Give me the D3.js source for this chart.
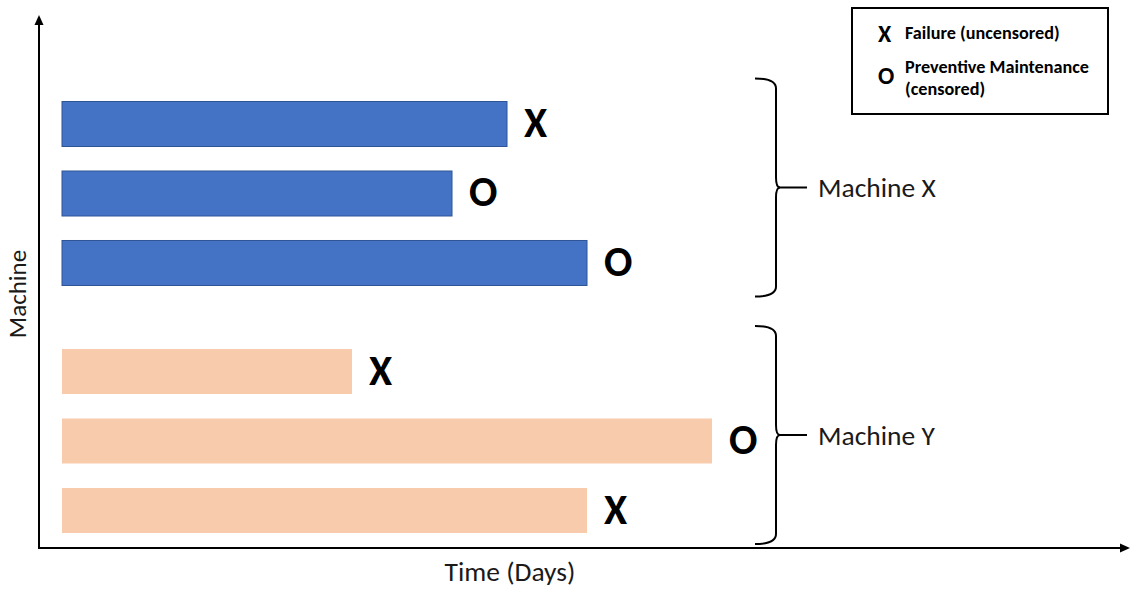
<!DOCTYPE html>
<html>
<head>
<meta charset="utf-8">
<script src="https://cdn.jsdelivr.net/npm/d3@7"></script>
<style>
  html, body { margin: 0; padding: 0; background: #fff; }
  svg { display: block; font-family: Carlito, Lato, "Open Sans", sans-serif; }
</style>
</head>
<body>
<script>
// Run history per machine: time to event and how each run ended
const groups = ["Machine X", "Machine Y"];
const machines = ["Machine X", "Machine X", "Machine X", "Machine Y", "Machine Y", "Machine Y"];
const runs = [1, 2, 3, 1, 2, 3];
const durations = [89, 78, 105, 58, 130, 105];   // days
const outcomes = ["X", "O", "O", "X", "O", "X"]; // X = failure, O = preventive maintenance

const legendSymbols = ["X", "O"];
const legendLabels = [["Failure (uncensored)"], ["Preventive Maintenance", "(censored)"]];

const groupColors = { "Machine X": "#4472C4", "Machine Y": "#F8CBAD" };
const groupStroke = { "Machine X": "#2F5597", "Machine Y": "none" };

const rows = machines.map((m, i) => ({ machine: m, run: runs[i], days: durations[i], outcome: outcomes[i] }));

const W = 1130, H = 590;
const svg = d3.select("body").append("svg").attr("width", W).attr("height", H);

// Scales
const x = d3.scaleLinear().domain([0, 200]).range([62, 1062]);
const yGroup = d3.scaleBand().domain(groups).range([101.5, 533]).paddingInner(0.2566).paddingOuter(0);
const yRow = d3.scaleBand().domain([1, 2, 3]).range([0, yGroup.bandwidth()]).paddingInner(0.3525).paddingOuter(0);

// Axes with arrowheads
const axisX0 = 39, axisY0 = 548;
const axes = svg.append("g").attr("stroke", "#000").attr("fill", "#000");
axes.append("line").attr("x1", axisX0).attr("y1", axisY0 + 1).attr("x2", axisX0).attr("y2", 24).attr("stroke-width", 2);
axes.append("path").attr("d", `M${axisX0},15 L${axisX0 - 4.5},25 L${axisX0 + 4.5},25 Z`).attr("stroke", "none");
axes.append("line").attr("x1", axisX0 - 1).attr("y1", axisY0).attr("x2", 1121).attr("y2", axisY0).attr("stroke-width", 2);
axes.append("path").attr("d", `M1130,${axisY0} L1120,${axisY0 - 4.5} L1120,${axisY0 + 4.5} Z`).attr("stroke", "none");

// Axis titles
svg.append("text")
  .attr("x", 510).attr("y", 581)
  .attr("text-anchor", "middle")
  .attr("font-size", 27.5).attr("fill", "#1a1a1a")
  .text("Time (Days)");
svg.append("text")
  .attr("transform", "translate(26,294) rotate(-90)")
  .attr("text-anchor", "middle")
  .attr("font-size", 25).attr("fill", "#1a1a1a")
  .text("Machine");

// Bars
const barY = d => yGroup(d.machine) + yRow(d.run);
svg.append("g").selectAll("rect").data(rows).join("rect")
  .attr("x", x(0))
  .attr("y", barY)
  .attr("width", d => x(d.days) - x(0))
  .attr("height", yRow.bandwidth())
  .attr("fill", d => groupColors[d.machine])
  .attr("stroke", d => groupStroke[d.machine])
  .attr("stroke-width", 1);

// Outcome symbols at the end of each run
svg.append("g").selectAll("text").data(rows).join("text")
  .attr("x", d => x(d.days) + 17)
  .attr("y", d => barY(d) + yRow.bandwidth() / 2 + 13)
  .attr("font-size", 42).attr("font-weight", "bold").attr("fill", "#000")
  .text(d => d.outcome);

// Curly braces grouping runs by machine
const bx0 = 755, bx1 = 776, r = 10;
const braces = svg.append("g").selectAll("g").data(groups).join("g");
braces.each(function (g) {
  const top = yGroup(g) - 23;
  const bot = yGroup(g) + yGroup.bandwidth() + 11;
  const mid = (top + bot) / 2;
  const sel = d3.select(this);
  sel.append("path")
    .attr("d", `M${bx0},${top} Q${bx1},${top} ${bx1},${top + r} L${bx1},${mid - r} Q${bx1},${mid} ${bx1 + 4},${mid} ` +
               `Q${bx1},${mid} ${bx1},${mid + r} L${bx1},${bot - r} Q${bx1},${bot} ${bx0},${bot}`)
    .attr("fill", "none").attr("stroke", "#000").attr("stroke-width", 2);
  sel.append("line")
    .attr("x1", bx1 + 2).attr("y1", mid).attr("x2", 807).attr("y2", mid)
    .attr("stroke", "#000").attr("stroke-width", 2);
  sel.append("text")
    .attr("x", 818).attr("y", mid + 10)
    .attr("font-size", 27.5).attr("fill", "#1a1a1a")
    .text(g);
});

// Legend
const legend = svg.append("g");
legend.append("rect")
  .attr("x", 852).attr("y", 8).attr("width", 256).attr("height", 106)
  .attr("fill", "#fff").attr("stroke", "#000").attr("stroke-width", 2);
const legendY = [42, 84];
const labelY = [[39], [73, 95]];
legendSymbols.forEach((s, i) => {
  legend.append("text")
    .attr("x", 878).attr("y", legendY[i])
    .attr("font-size", 24).attr("font-weight", "bold").attr("fill", "#000")
    .text(s);
  legendLabels[i].forEach((line, j) => {
    legend.append("text")
      .attr("x", 905).attr("y", labelY[i][j])
      .attr("font-size", 18.2).attr("font-weight", "bold").attr("fill", "#000")
      .text(line);
  });
});
</script>
</body>
</html>
